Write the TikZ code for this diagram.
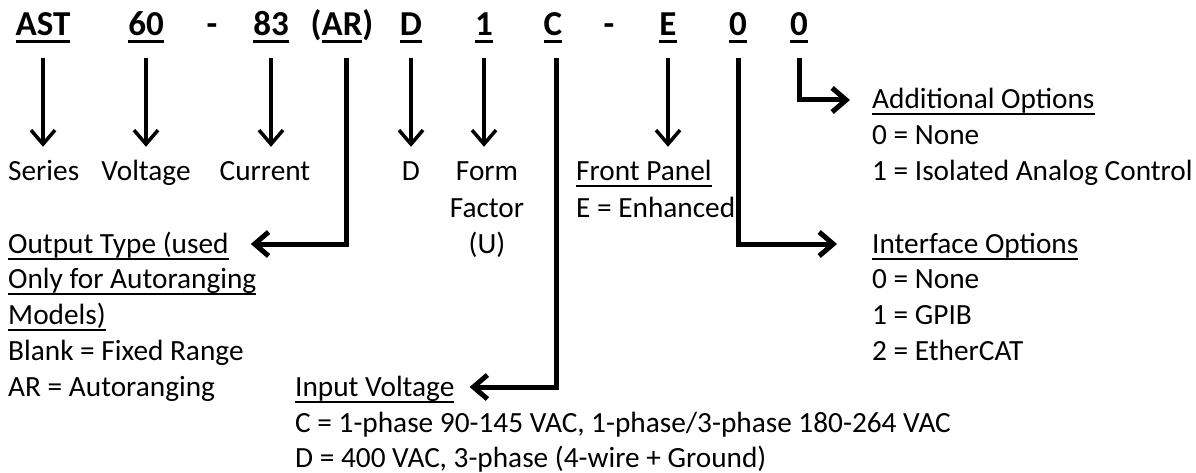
\documentclass[tikz,border=0pt]{standalone}
\usepackage{fontspec}
\setmainfont{Carlito}
\usetikzlibrary{arrows.meta, positioning}
\newlength{\undlwd}
\newcommand{\undl}[1]{\settowidth{\undlwd}{#1}\rlap{\rule[-6.5pt]{\undlwd}{2pt}}#1}
\newcommand{\codeul}[1]{\settowidth{\undlwd}{#1}\rlap{\rule[-7pt]{\undlwd}{3pt}}#1}
\tikzstyle{code_node} = [anchor=base, inner sep=0pt, text height=26pt, text depth=9pt, font=\fontsize{35}{40}\selectfont\bfseries]
\tikzstyle{label_node} = [anchor=base west, inner sep=0pt, text height=20pt, text depth=7pt, font=\fontsize{29.3}{35.8}\selectfont]
\tikzstyle{pick_arrow} = [line width=3.5pt, -{Straight Barb[length=14pt, width=24pt]}]
\tikzstyle{route_arrow} = [line width=5pt, -{Straight Barb[length=14pt, width=24pt]}]

\begin{document}
\begin{tikzpicture}[x=1pt, y=-1pt]
\useasboundingbox (0,0) rectangle (1196,473);

% model code
\node (ast) [code_node] at (43,36) {\codeul{AST}};
\node (volt) [code_node] at (146,36) {\codeul{60}};
\node (dash1) [code_node] at (212,36) {-};
\node (curr) [code_node] at (271,36) {\codeul{83}};
\node (outp) [code_node] at (342,36) {(\codeul{AR})};
\node (dcode) [code_node] at (411,36) {\codeul{D}};
\node (form) [code_node] at (484,36) {\codeul{1}};
\node (inp) [code_node] at (553,36) {\codeul{C}};
\node (dash2) [code_node] at (609,36) {-};
\node (panel) [code_node] at (668,36) {\codeul{E}};
\node (iface) [code_node] at (738,36) {\codeul{0}};
\node (addl) [code_node] at (799,36) {\codeul{0}};

% labels
\node (series) [label_node] at (8,181) {Series};
\node (voltage) [label_node, anchor=base] at (146,181) {Voltage};
\node (current) [label_node, anchor=base] at (265,181) {Current};
\node (dlabel) [label_node, anchor=base] at (411,181) {D};
\node (form1) [label_node, anchor=base] at (487,181) {Form};
\node (form2) [label_node, anchor=base] at (487,217) {Factor};
\node (form3) [label_node, anchor=base] at (487,253) {(U)};
\node (panel1) [label_node] at (576,181) {\undl{Front Panel}};
\node (panel2) [label_node] at (576,217) {E = Enhanced};

\node (out1) [label_node] at (8,253) {\undl{Output Type (used}};
\node (out2) [label_node] at (8,288) {\undl{Only for Autoranging}};
\node (out3) [label_node] at (8,324) {\undl{Models)}};
\node (out4) [label_node] at (8,360) {Blank = Fixed Range};
\node (out5) [label_node] at (8,396) {AR = Autoranging};

\node (in1) [label_node] at (295,396) {\undl{Input Voltage}};
\node (in2) [label_node] at (295,432) {C = 1-phase 90-145 VAC, 1-phase/3-phase 180-264 VAC};
\node (in3) [label_node] at (295,467) {D = 400 VAC, 3-phase (4-wire + Ground)};

\node (add1) [label_node] at (872,109) {\undl{Additional Options}};
\node (add2) [label_node] at (872,145) {0 = None};
\node (add3) [label_node] at (872,181) {1 = Isolated Analog Control};

\node (if1) [label_node] at (872,253) {\undl{Interface Options}};
\node (if2) [label_node] at (872,288) {0 = None};
\node (if3) [label_node] at (872,324) {1 = GPIB};
\node (if4) [label_node] at (872,360) {2 = EtherCAT};

% straight picks
\draw [pick_arrow] ([yshift=-13pt]ast.south) -- ([yshift=14pt]ast.south |- series.north);
\draw [pick_arrow] ([yshift=-13pt]volt.south) -- ([yshift=14pt]volt.south |- voltage.north);
\draw [pick_arrow] ([yshift=-13pt]curr.south) -- ([yshift=14pt]curr.south |- current.north);
\draw [pick_arrow] ([yshift=-13pt]dcode.south) -- ([yshift=14pt]dcode.south |- dlabel.north);
\draw [pick_arrow] ([yshift=-13pt]form.south) -- ([yshift=14pt]form.south |- form1.north);
\draw [pick_arrow] ([yshift=-13pt]panel.south) -- ([yshift=14pt]panel.south |- panel1.north);

% routed picks
\draw [route_arrow] ([xshift=4pt, yshift=-13pt]outp.south) |- ([xshift=22pt, yshift=9pt]out1.base east);
\draw [route_arrow] ([xshift=3pt, yshift=-13pt]inp.south) |- ([xshift=15pt, yshift=9pt]in1.base east);
\draw [route_arrow] ([yshift=-13pt]iface.south) |- ([xshift=-35pt, yshift=9pt]if1.base west);
\draw [route_arrow] ([yshift=-13pt]addl.south) |- ([xshift=-22pt, yshift=9pt]add1.base west);
\end{tikzpicture}
\end{document}
